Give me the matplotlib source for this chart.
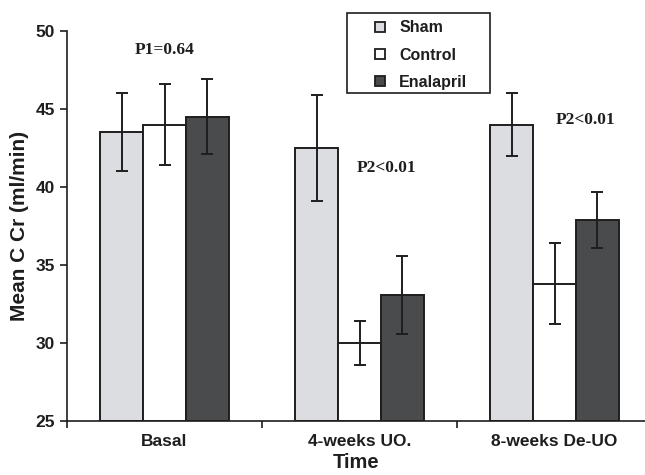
import numpy as np
import matplotlib
matplotlib.use('Agg')
import matplotlib.pyplot as plt
from matplotlib.lines import Line2D
from matplotlib.patches import Rectangle

# values
times = ['Basal', '4-weeks UO.', '8-weeks De-UO']
groups = ['Sham', 'Control', 'Enalapril']
sham = [43.5, 42.5, 44.0]
sham_err = [2.5, 3.4, 2.0]
control = [44.0, 30.0, 33.8]
control_err = [2.6, 1.4, 2.6]
enalapril = [44.5, 33.1, 37.9]
enalapril_err = [2.4, 2.5, 1.8]

colors = ['#dcdde0', '#ffffff', '#4a4b4d']
ink = '#1e1e1e'

plt.rcParams['font.family'] = ['Liberation Sans', 'DejaVu Sans']
plt.rcParams['font.weight'] = 'bold'

fig = plt.figure(figsize=(6.45, 4.75), dpi=100)
ax = fig.add_axes([67/645, 54/475, 578/645, 390/475])

x = np.arange(len(times))
w = 0.22
series = [(sham, sham_err), (control, control_err), (enalapril, enalapril_err)]
for i, (vals, errs) in enumerate(series):
    pos = x + (i - 1) * w
    ax.bar(pos, np.array(vals) - 25, w, bottom=25, color=colors[i],
           edgecolor=ink, linewidth=1.4, label=groups[i], zorder=2)
    ax.errorbar(pos, vals, yerr=errs, fmt='none', ecolor=ink,
                elinewidth=1.4, capsize=4, capthick=1.4, zorder=3)

ax.set_ylim(25, 50)
ax.set_xlim(-0.5, 2.464)
ax.set_yticks([25, 30, 35, 40, 45, 50])
ax.set_xticks([-0.5, 0.5, 1.5])
ax.set_xticklabels([])
ax.set_xticks(x, minor=True)
ax.set_xticklabels(times, minor=True)
ax.tick_params(axis='x', which='minor', length=0, pad=9, labelsize=12.5)
ax.tick_params(axis='x', which='major', length=5, width=1.2, color=ink)
ax.tick_params(axis='y', length=5, width=1.2, labelsize=12.5, color=ink)
for lab in ax.get_yticklabels() + ax.get_xticklabels(minor=True):
    lab.set_fontweight('bold')
    lab.set_color(ink)

for s in ['top', 'right']:
    ax.spines[s].set_visible(False)
for s in ['left', 'bottom']:
    ax.spines[s].set_linewidth(1.2)
    ax.spines[s].set_color(ink)

ax.set_ylabel('Mean C Cr (ml/min)', fontsize=15, fontweight='bold', labelpad=5, color=ink)
ax.set_xlabel('Time', fontsize=14.5, fontweight='bold', labelpad=3, color=ink)

serif = dict(family=['Liberation Serif', 'DejaVu Serif'], fontweight='bold',
             fontsize=12.5, color=ink, ha='center', va='center')
ax.text(0.0, 48.8, 'P1=0.64', **serif)
ax.text(1.136, 41.2, 'P2<0.01', **serif)
ax.text(2.16, 44.3, 'P2<0.01', **serif)

# legend
handles = [Line2D([], [], marker='s', linestyle='none', markersize=7.5,
                  markerfacecolor=c, markeredgecolor=ink, markeredgewidth=1.3)
           for c in colors]
leg = fig.legend(handles, groups, loc='center left',
                 bbox_to_anchor=(372/645, 1 - 55/475), frameon=False,
                 fontsize=11.5, handlelength=1.0, handletextpad=0.7,
                 borderpad=0, labelspacing=0.76, borderaxespad=0)
for t in leg.get_texts():
    t.set_fontweight('bold')
    t.set_color(ink)
fig.patches.append(Rectangle((347/645, 1 - 93/475), 143/645, 80/475,
                             transform=fig.transFigure, fill=False,
                             edgecolor=ink, linewidth=1.2))

fig.savefig('out.png', dpi=100)
